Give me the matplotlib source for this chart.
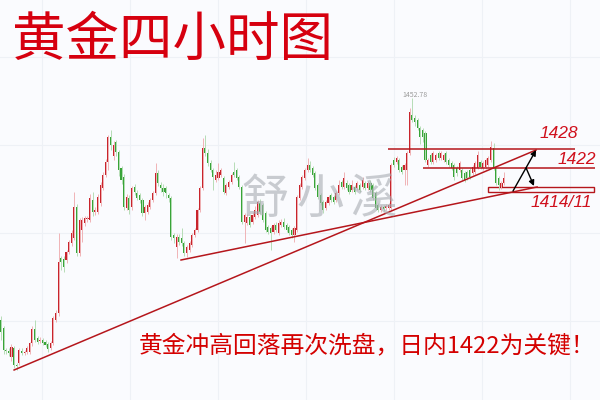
import numpy as np
import matplotlib.pyplot as plt
from matplotlib.patches import Rectangle

plt.rcParams['font.family'] = ['Noto Sans CJK SC', 'DejaVu Sans']

# 4h candles (price scale approximate)
opens = [1348, 1344, 1333, 1332.5, 1329.5, 1334, 1325.5, 1326.5, 1332.5, 1331.5,
         1332, 1332, 1336.5, 1343.5, 1339, 1337.5, 1338, 1337, 1336, 1334,
         1336.5, 1348, 1351.5, 1379, 1378.5, 1378, 1382, 1386.5, 1389, 1404.5,
         1381.5, 1393, 1396.5,
         1398.5, 1398, 1408, 1402, 1402, 1406.5, 1414,
         1420.5, 1427, 1439.5, 1430, 1437, 1432, 1424, 1419.5, 1404, 1409,
         1404.5, 1414.5, 1411.5, 1410.5, 1408, 1401.5, 1402, 1404.5, 1408, 1411.5,
         1421.5, 1415.5, 1414, 1414,
         1410.5, 1409, 1390.5, 1384.5, 1389.5, 1389,
         1386.5, 1381.5, 1383, 1385.5, 1390.5, 1393, 1403, 1414, 1434, 1431.5,
         1426.5, 1423, 1418, 1419, 1420.5, 1419, 1411.5, 1414.5, 1417, 1422,
         1423, 1419.5, 1414.5, 1397, 1396.5, 1399.5, 1397, 1399.5, 1400.5, 1406.5,
         1405.5, 1401.5, 1394.5, 1394, 1392, 1395.5, 1391.5, 1395.5, 1397, 1395.5,
         1394.5, 1393, 1390.5, 1393, 1409, 1414.5, 1419, 1423, 1425.5, 1424,
         1421.5, 1415.5, 1410.5, 1407, 1404, 1406.5, 1410.5, 1409.5, 1408, 1411.5,
         1417, 1414.5, 1416.5, 1415.5, 1413, 1414.5, 1414, 1415.5, 1414.5, 1416.5,
         1414, 1416.5, 1415.5, 1411.5, 1405.5, 1403, 1404.5, 1404, 1404, 1404,
         1428, 1427, 1428, 1424.5, 1423, 1423, 1431.5, 1450.5, 1449, 1448,
         1444, 1443, 1441.5, 1425.5, 1430.5, 1427, 1428, 1431.5, 1429, 1428,
         1431.5, 1428, 1426.5, 1425.5, 1424, 1423, 1423, 1421.5, 1422, 1423,
         1421.5, 1422, 1424, 1427, 1424, 1424.5, 1425.5, 1428, 1434, 1424,
         1419, 1414.5, 1416.5]
closes = [1342, 1333, 1332.5, 1331.5, 1334.5, 1325.5, 1325, 1333, 1331.5, 1332,
          1334, 1336.5, 1343.5, 1338, 1337, 1338, 1336.5, 1335.5, 1333.5, 1336.5,
          1349, 1351.5, 1377, 1377, 1374.5, 1382, 1387, 1391.5, 1404.5, 1381.5,
          1398, 1398, 1399,
          1399, 1409, 1402, 1403, 1409.5, 1415.5, 1420.5,
          1427, 1439.5, 1435.5, 1435.5, 1432, 1423, 1418, 1404.5, 1409.5, 1403,
          1414, 1412, 1409, 1408, 1401.5, 1404.5, 1405.5, 1408, 1411.5, 1421.5,
          1416.5, 1414, 1412, 1411.5,
          1409, 1389.5, 1389, 1389.5, 1387, 1386.5,
          1381.5, 1384.5, 1386.5, 1390.5, 1393, 1403, 1414, 1434, 1431.5, 1426.5,
          1423, 1419.5, 1420.5, 1422, 1423, 1412, 1415.5, 1417, 1420.5, 1420.5,
          1419, 1414.5, 1397, 1400.5, 1399.5, 1395.5, 1400.5, 1403, 1407, 1402,
          1398, 1393, 1392, 1391.5, 1395.5, 1393, 1396.5, 1397, 1394.5, 1393,
          1391.5, 1390.5, 1394, 1409.5, 1415.5, 1419.5, 1423, 1425.5, 1423, 1420.5,
          1414, 1409.5, 1406.5, 1403, 1407, 1409.5, 1408, 1407, 1411.5, 1415.5,
          1414.5, 1419, 1414, 1412, 1415.5, 1412, 1416.5, 1413, 1418, 1414,
          1416.5, 1413, 1409, 1404, 1403, 1404.5, 1403.5, 1405, 1405.5, 1425.5,
          1425.5, 1429, 1423, 1422, 1425.5, 1431.5, 1452, 1448, 1447, 1444,
          1439.5, 1439.5, 1428, 1428, 1427, 1431.5, 1430.5, 1429, 1431.5, 1430.5,
          1427, 1425.5, 1424, 1419.5, 1421.5, 1426.5, 1419, 1418, 1419, 1419.5,
          1424.5, 1426.5, 1430.5, 1424.5, 1426.5, 1428, 1429, 1434.5, 1424, 1416.5,
          1415.5, 1416.5, 1419]
highs = [1350, 1345, 1334, 1334, 1336, 1335, 1326.5, 1334, 1334, 1333,
         1335, 1337, 1345, 1348, 1340, 1339.5, 1339, 1338, 1337, 1337.5,
         1350, 1353, 1391.5, 1380, 1380, 1383, 1388, 1393, 1412, 1406,
         1399, 1399.5, 1400,
         1400, 1411, 1412, 1404.5, 1411, 1417, 1422,
         1428.5, 1440.5, 1443, 1437.5, 1438, 1433, 1425, 1421, 1411, 1410.5,
         1415, 1416, 1413, 1411.5, 1409, 1405.5, 1407, 1409, 1412.5, 1426.5,
         1423, 1417, 1416, 1415,
         1411.5, 1410, 1391.5, 1391, 1391, 1394,
         1387.5, 1385.5, 1387.5, 1391.5, 1394, 1404, 1415, 1439, 1440.5, 1433.5,
         1428, 1424, 1423, 1426.5, 1424, 1420, 1416.5, 1418, 1421.5, 1427,
         1424, 1420.5, 1415.5, 1401.5, 1401, 1401, 1402, 1405, 1408, 1408.5,
         1406.5, 1402.5, 1395.5, 1395, 1396.5, 1397, 1398, 1398.5, 1399, 1396.5,
         1395.5, 1394, 1395, 1410.5, 1416.5, 1420.5, 1424, 1429, 1427.5, 1425,
         1422.5, 1416.5, 1411.5, 1408, 1408, 1410.5, 1411.5, 1410.5, 1412.5, 1418,
         1418, 1422, 1418, 1416.5, 1418, 1415.5, 1417.5, 1416.5, 1419.5, 1417.5,
         1417.5, 1418, 1416.5, 1412.5, 1406.5, 1405.5, 1405.5, 1406, 1406.5, 1426.5,
         1429.5, 1430, 1429, 1425.5, 1426.5, 1432.5, 1454, 1459, 1450.5, 1449,
         1445, 1444, 1442.5, 1429, 1431.5, 1432.5, 1431.5, 1432.5, 1432.5, 1431.5,
         1432.5, 1429, 1427.5, 1426.5, 1425, 1427.5, 1424, 1422.5, 1423, 1424,
         1425.5, 1427.5, 1432.5, 1428, 1427.5, 1429, 1430, 1437.5, 1436.5, 1425,
         1420, 1417.5, 1422]
lows = [1338, 1331, 1331, 1330, 1327.5, 1324, 1323, 1325.5, 1330.5, 1330.5,
        1331, 1331, 1335, 1337, 1336, 1336.5, 1335.5, 1334.5, 1332, 1333,
        1335.5, 1347, 1350, 1373, 1372, 1376.5, 1381, 1385, 1388, 1380,
        1380, 1387, 1395,
        1397, 1397, 1400, 1400.5, 1401, 1405, 1413,
        1419.5, 1423, 1433, 1428, 1430, 1420, 1416, 1403, 1403, 1401,
        1403, 1410.5, 1408, 1406.5, 1400, 1398, 1401, 1403.5, 1407, 1410.5,
        1415, 1412, 1410, 1409,
        1407, 1388, 1386.5, 1379, 1385.5, 1385,
        1380, 1379.5, 1382, 1384.5, 1389.5, 1392, 1402, 1413, 1430, 1425,
        1422, 1413, 1417, 1418, 1419.5, 1411, 1410.5, 1413.5, 1416, 1419.5,
        1418, 1413.5, 1396, 1386.5, 1395.5, 1394.5, 1396, 1398.5, 1399.5, 1401,
        1397, 1392, 1391, 1383, 1391, 1392, 1390.5, 1394.5, 1393.5, 1392,
        1390.5, 1389, 1387, 1392, 1408, 1413.5, 1418, 1422, 1422, 1419.5,
        1413, 1408.5, 1405.5, 1401.5, 1403, 1405.5, 1407, 1406, 1407, 1410.5,
        1413.5, 1413.5, 1413, 1411, 1412, 1411, 1413, 1412, 1413.5, 1413,
        1413, 1412, 1408, 1403, 1402, 1402, 1402.5, 1403, 1403, 1403,
        1424.5, 1426, 1422, 1421, 1415.5, 1415.5, 1430.5, 1447, 1445, 1443,
        1436, 1437, 1427, 1424.5, 1426, 1426, 1427, 1428, 1428, 1427,
        1426, 1424.5, 1423, 1418, 1420, 1422, 1418, 1417, 1418, 1418.5,
        1420.5, 1421, 1423.5, 1423.5, 1423, 1423.5, 1424.5, 1427, 1423, 1415.5,
        1413, 1413.5, 1415.5]

# analyst drawings (bar index, price)
trend_long_x = [5.0, 204.2]
trend_long_y = [1323, 1433]
trend_low_x = [68.7, 204.6]
trend_low_y = [1378, 1414.5]
res_1428 = 1433.5
res_1422 = 1424
support_box = [1412, 1414.5]

o = np.array(opens); c = np.array(closes)
h = np.array(highs); l = np.array(lows)
idx = np.arange(len(o))
up = c >= o

fig = plt.figure(figsize=(6, 4), dpi=100, facecolor='#fafbfe')
ax = fig.add_axes([0, 0, 1, 1])
ax.set_facecolor('#fafbfe')
ax.set_xlim(-0.38, 228.6)
ax.set_ylim(1308, 1508)
for s in ax.spines.values():
    s.set_visible(False)
ax.set_xticks(np.arange(15.6, 228, 33.6))
ax.set_yticks([1347.5, 1391.5, 1435.5, 1479.5])
ax.tick_params(length=0, labelbottom=False, labelleft=False)
ax.grid(color='#eef1f6', lw=0.8)
ax.set_axisbelow(True)

# candles : red up, green down
ax.vlines(idx[up], l[up], h[up], color='#f0b3b6', lw=0.7)
ax.vlines(idx[~up], l[~up], h[~up], color='#b6ddb6', lw=0.7)
bot = np.minimum(o, c)
hgt = np.maximum(np.abs(c - o), 0.6)
ax.bar(idx[up], hgt[up], bottom=bot[up], width=0.8, color='#c8242c', lw=0)
ax.bar(idx[~up], hgt[~up], bottom=bot[~up], width=0.8, color='#38a438', lw=0)

lc = '#b5161c'
ax.plot(trend_long_x, trend_long_y, color=lc, lw=1.1)
ax.plot(trend_low_x, trend_low_y, color=lc, lw=1.1)
ax.hlines(res_1428, 147.7, 219.1, color=lc, lw=1.1)
ax.hlines(res_1422, 161.1, 226.7, color=lc, lw=1.1)
ax.add_patch(Rectangle((185.9, support_box[0]), 40.4, support_box[1] - support_box[0],
                       fill=False, ec=lc, lw=1.0))

ap = dict(arrowstyle='-|>', color='black', lw=1.0, mutation_scale=8, shrinkA=0, shrinkB=0)
ax.annotate('', xy=(204.2, 1433), xytext=(195.4, 1412.5), arrowprops=ap)
ax.annotate('', xy=(203.4, 1415), xytext=(200.4, 1424), arrowprops=ap)

# watermark
for ch, xp in zip(['舒', '小', '溪'], [265, 320, 373]):
    fig.text(xp / 600, 1 - 200 / 400, ch, fontsize=34, color='#a8acb2', alpha=0.6,
             ha='center', va='center', zorder=5)

fig.text(415 / 600, 1 - 95 / 400, '1452.78', fontsize=5, color='#9a9a9a', ha='center', va='center')

fig.text(12 / 600, 1 - 40 / 400, '黄金四小时图', fontsize=38.5, color='#d6000f',
         ha='left', va='center')

lab = dict(family=['Liberation Sans', 'DejaVu Sans'], style='italic', fontsize=12.5,
           color='#d0101c', ha='center', va='center')
fig.text(559 / 600, 1 - 134 / 400, '1428', **lab)
fig.text(577 / 600, 1 - 159 / 400, '1422', **lab)
fig.text(561 / 600, 1 - 203 / 400, '1414/11', **lab)

fig.text(139 / 600, 1 - 346 / 400, '黄金冲高回落再次洗盘，日内1422为关键！', fontsize=17.1,
         color='#d40000', ha='left', va='center')

fig.savefig('out.png', dpi=100, facecolor=fig.get_facecolor())
